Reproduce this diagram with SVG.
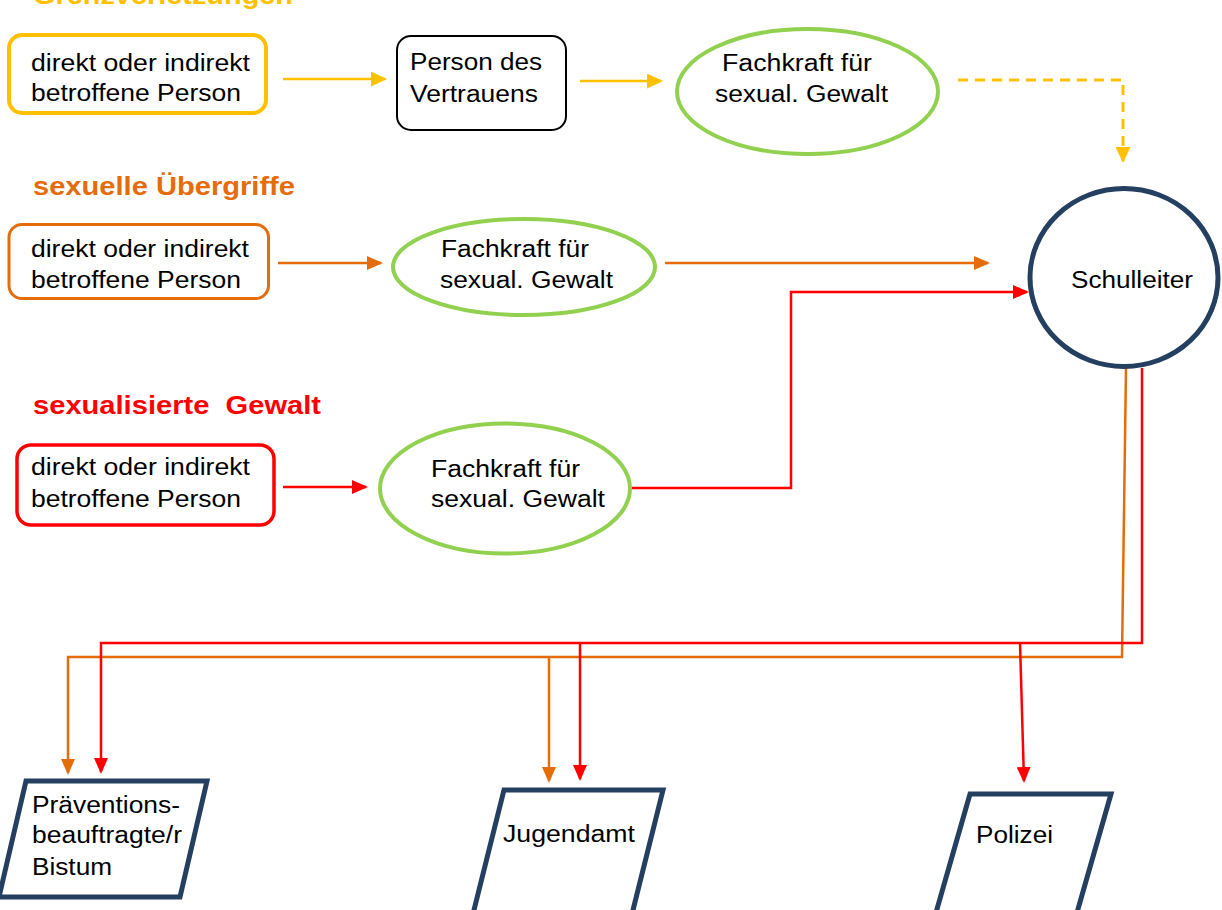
<svg xmlns="http://www.w3.org/2000/svg" width="1222" height="910" viewBox="0 0 1222 910">
<style>
text{font-family:"Liberation Sans",Arial,sans-serif;fill:#000;}
.t{font-size:23.5px;}
.h{font-size:26px;font-weight:bold;}
.y{stroke:#FFC000;}
.o{stroke:#E46C0A;}
.r{stroke:#FF0000;}
.g{stroke:#92D050;}
.n{stroke:#243F60;}
.node{fill:#fff;}
.c{fill:none;stroke-width:2.5;}
</style>
<defs>
<marker id="ay" markerUnits="userSpaceOnUse" markerWidth="16" markerHeight="15" viewBox="0 0 16 15" refX="14" refY="7.5" orient="auto"><path d="M0,0 L16,7.5 L0,15 z" fill="#FFC000"/></marker>
<marker id="ao" markerUnits="userSpaceOnUse" markerWidth="16" markerHeight="14" viewBox="0 0 16 14" refX="14" refY="7" orient="auto"><path d="M0,0 L16,7 L0,14 z" fill="#E46C0A"/></marker>
<marker id="ar" markerUnits="userSpaceOnUse" markerWidth="16" markerHeight="14" viewBox="0 0 16 14" refX="14" refY="7" orient="auto"><path d="M0,0 L16,7 L0,14 z" fill="#FF0000"/></marker>
</defs>

<g id="labels">
<text class="h" x="33" y="4" style="fill:#FFC000" textLength="260" lengthAdjust="spacingAndGlyphs">Grenzverletzungen</text>
<text class="h" x="33" y="195" style="fill:#E46C0A" textLength="262" lengthAdjust="spacingAndGlyphs">sexuelle Übergriffe</text>
<text class="h" x="33" y="414" style="fill:#FF0000" textLength="288" lengthAdjust="spacingAndGlyphs" xml:space="preserve">sexualisierte  Gewalt</text>
</g>

<g id="connectors">
<line class="c y" x1="283" y1="79" x2="385" y2="79" marker-end="url(#ay)"/>
<line class="c y" x1="580" y1="81" x2="661" y2="81" marker-end="url(#ay)"/>
<path class="y" d="M958,80 H1123 V161" fill="none" stroke-width="3" stroke-dasharray="10,7" marker-end="url(#ay)"/>
<line class="c o" x1="278" y1="263" x2="381" y2="263" marker-end="url(#ao)"/>
<line class="c o" x1="665" y1="263" x2="988" y2="263" marker-end="url(#ao)"/>
<line class="c r" x1="283" y1="487" x2="366" y2="487" marker-end="url(#ar)"/>
<path class="c r" d="M632,488 H791 V292 H1027" marker-end="url(#ar)"/>
<path class="c o" d="M1126,368 L1122,657 H68 V773" marker-end="url(#ao)"/>
<path class="c o" d="M549,657 V781" marker-end="url(#ao)"/>
<path class="c r" d="M1142,368 V643 H101 V772" marker-end="url(#ar)"/>
<path class="c r" d="M580,643 V779" marker-end="url(#ar)"/>
<path class="c r" d="M1020,643 L1024,781" marker-end="url(#ar)"/>
</g>

<g id="n1">
<rect class="node y" x="9" y="35" width="257" height="78" rx="13" stroke-width="4"/>
<text class="t" x="31" y="71" textLength="219" lengthAdjust="spacingAndGlyphs">direkt oder indirekt</text>
<text class="t" x="31" y="101" textLength="210" lengthAdjust="spacingAndGlyphs">betroffene Person</text>
</g>
<g id="n2">
<rect class="node" x="397" y="36" width="169" height="94" rx="14" stroke="#000" stroke-width="2"/>
<text class="t" x="410" y="70" textLength="132" lengthAdjust="spacingAndGlyphs">Person des</text>
<text class="t" x="410" y="102" textLength="128" lengthAdjust="spacingAndGlyphs">Vertrauens</text>
</g>
<g id="n3">
<ellipse class="node g" cx="807.5" cy="91.5" rx="130.5" ry="62.5" stroke-width="4"/>
<text class="t" x="722" y="71" textLength="150" lengthAdjust="spacingAndGlyphs">Fachkraft für</text>
<text class="t" x="715" y="102" textLength="173" lengthAdjust="spacingAndGlyphs">sexual. Gewalt</text>
</g>
<g id="n4">
<rect class="node o" x="9" y="224.5" width="259.5" height="74" rx="13" stroke-width="3"/>
<text class="t" x="31" y="257" textLength="218" lengthAdjust="spacingAndGlyphs">direkt oder indirekt</text>
<text class="t" x="31" y="288" textLength="210" lengthAdjust="spacingAndGlyphs">betroffene Person</text>
</g>
<g id="n5">
<ellipse class="node g" cx="524" cy="267" rx="131" ry="48" stroke-width="4"/>
<text class="t" x="441" y="257" textLength="148" lengthAdjust="spacingAndGlyphs">Fachkraft für</text>
<text class="t" x="440" y="288" textLength="173" lengthAdjust="spacingAndGlyphs">sexual. Gewalt</text>
</g>
<g id="n6">
<ellipse class="node n" cx="1124" cy="277.5" rx="94" ry="89" stroke-width="5"/>
<text class="t" x="1071" y="288" textLength="122" lengthAdjust="spacingAndGlyphs">Schulleiter</text>
</g>
<g id="n7">
<rect class="node r" x="17" y="445" width="257" height="80" rx="14" stroke-width="3.5"/>
<text class="t" x="31" y="475" textLength="219" lengthAdjust="spacingAndGlyphs">direkt oder indirekt</text>
<text class="t" x="31" y="507" textLength="210" lengthAdjust="spacingAndGlyphs">betroffene Person</text>
</g>
<g id="n8">
<ellipse class="node g" cx="505" cy="488.5" rx="125" ry="65" stroke-width="4"/>
<text class="t" x="431" y="477" textLength="149" lengthAdjust="spacingAndGlyphs">Fachkraft für</text>
<text class="t" x="431" y="507" textLength="174" lengthAdjust="spacingAndGlyphs">sexual. Gewalt</text>
</g>
<g id="n9">
<polygon class="node n" points="26,781 207,781 180,897 -1,897" stroke-width="5"/>
<text class="t" x="32" y="813" textLength="148" lengthAdjust="spacingAndGlyphs">Präventions-</text>
<text class="t" x="32" y="843" textLength="150" lengthAdjust="spacingAndGlyphs">beauftragte/r</text>
<text class="t" x="32" y="875" textLength="80" lengthAdjust="spacingAndGlyphs">Bistum</text>
</g>
<g id="n10">
<polygon class="node n" points="504,790 663,790 628,930 469,930" stroke-width="5"/>
<text class="t" x="503" y="842" textLength="132" lengthAdjust="spacingAndGlyphs">Jugendamt</text>
</g>
<g id="n11">
<polygon class="node n" points="970,794 1111,794 1072,930 931,930" stroke-width="5"/>
<text class="t" x="976" y="843" textLength="77" lengthAdjust="spacingAndGlyphs">Polizei</text>
</g>
</svg>
